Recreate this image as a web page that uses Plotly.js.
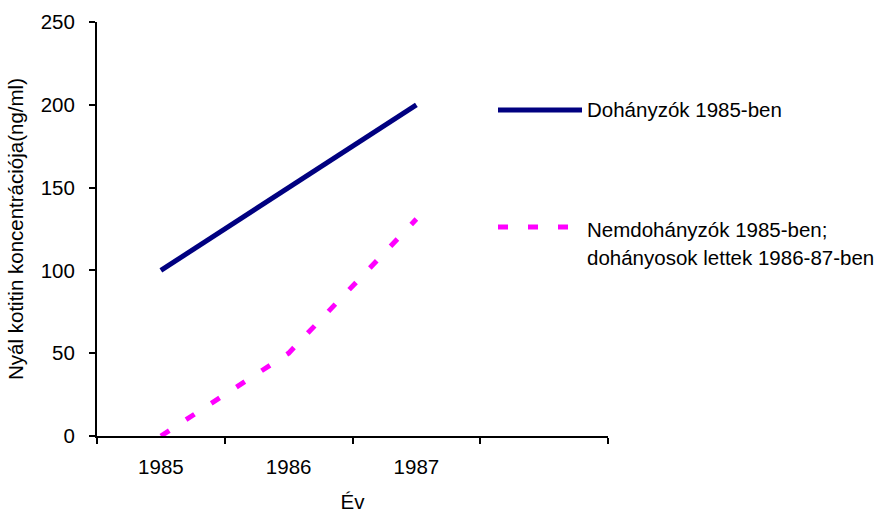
<!DOCTYPE html>
<html>
<head>
<meta charset="utf-8">
<script src="https://cdn.plot.ly/plotly-3.0.1.min.js"></script>
<style>html,body{margin:0;padding:0;background:#fff;}#chart{width:887px;height:513px;}</style>
</head>
<body>
<div id="chart"></div>
<script>
// Data
const years = [1985, 1986, 1987];
const yearLabels = ['1985', '1986', '1987'];
const categoryBounds = [1984.5, 1985.5, 1986.5, 1987.5, 1988.5];
const smokers1985 = [100, 150, 200];
const nonSmokersBecameSmokers = [0, 50, 131];
const seriesNames = ['Dohányzók 1985-ben', 'Nemdohányzók 1985-ben;', 'dohányosok lettek 1986-87-ben'];
const yTicks = [0, 50, 100, 150, 200, 250];

const FONT = 'Liberation Sans, Arial, sans-serif';
const FS = 20.5;
const navy = '#000080';
const magenta = '#FF00FF';

const traces = [
  {x: years, y: smokers1985, type: 'scatter', mode: 'lines', name: seriesNames[0],
   line: {color: navy, width: 5}, hoverinfo: 'skip'},
  {x: years, y: nonSmokersBecameSmokers, type: 'scatter', mode: 'lines', name: seriesNames[1],
   line: {color: magenta, width: 5, dash: '10px,20px'}, hoverinfo: 'skip'}
];

// plot area in pixels: x 97..608, y 22..436
const L = 97, R = 608, T = 22, B = 436;
const px = v => (v - L) / (R - L);
const py = v => (B - v) / (B - T);

const layout = {
  width: 887, height: 513,
  margin: {l: L, r: 887 - R, t: T, b: 513 - B, pad: 0},
  paper_bgcolor: '#fff', plot_bgcolor: '#fff',
  showlegend: false,
  font: {family: FONT, size: FS, color: '#000'},
  xaxis: {
    range: [categoryBounds[0], categoryBounds[categoryBounds.length - 1]],
    tickvals: years, ticktext: yearLabels, ticks: '',
    ticklabelstandoff: 11,
    minor: {tickvals: categoryBounds, ticks: 'outside', ticklen: 6, tickwidth: 2, tickcolor: '#000', showgrid: false},
    showline: true, linecolor: '#000', linewidth: 2, showgrid: false, zeroline: false,
    title: {text: 'Év', font: {family: FONT, size: FS}, standoff: 21},
    fixedrange: true
  },
  yaxis: {
    range: [0, 250], tickvals: yTicks, ticks: 'outside', ticklen: 6, tickwidth: 2, tickcolor: '#000',
    ticklabelstandoff: 10,
    showline: true, linecolor: '#000', linewidth: 2, showgrid: false, zeroline: false,
    title: {text: 'Nyál kotitin koncentrációja(ng/ml)', font: {family: FONT, size: FS}, standoff: 12},
    fixedrange: true
  },
  shapes: [
    {type: 'line', xref: 'paper', yref: 'paper', x0: px(498), x1: px(582), y0: py(110), y1: py(110),
     line: {color: navy, width: 5}},
    {type: 'line', xref: 'paper', yref: 'paper', x0: px(498), x1: px(569), y0: py(227), y1: py(227),
     line: {color: magenta, width: 5, dash: '10px,20px'}}
  ],
  annotations: [
    {xref: 'paper', yref: 'paper', x: px(585), y: py(110), xanchor: 'left', yanchor: 'middle',
     text: seriesNames[0], showarrow: false, font: {family: FONT, size: FS}},
    {xref: 'paper', yref: 'paper', x: px(585), y: py(229), xanchor: 'left', yanchor: 'middle',
     text: seriesNames[1], showarrow: false, font: {family: FONT, size: FS}},
    {xref: 'paper', yref: 'paper', x: px(585), y: py(257), xanchor: 'left', yanchor: 'middle',
     text: seriesNames[2], showarrow: false, font: {family: FONT, size: FS}}
  ]
};

Plotly.newPlot('chart', traces, layout, {staticPlot: true, displayModeBar: false});
</script>
</body>
</html>
